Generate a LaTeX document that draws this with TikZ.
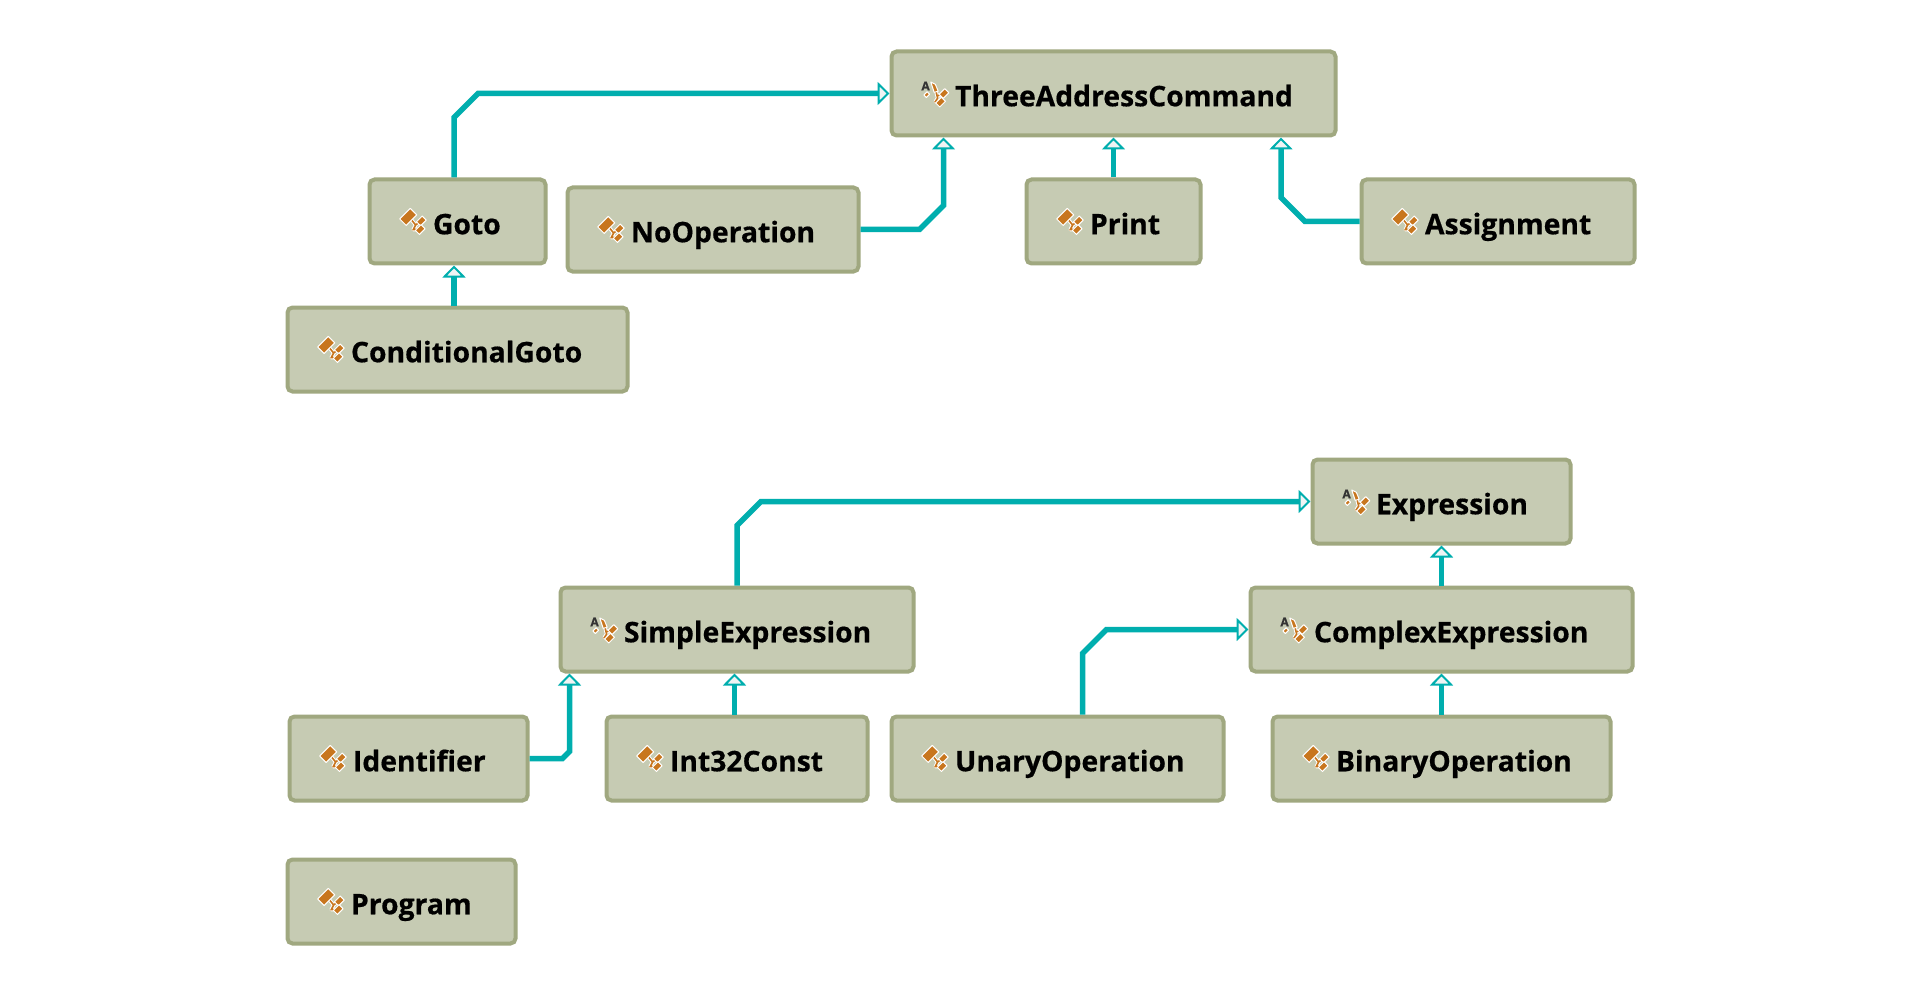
\documentclass[tikz,border=0pt]{standalone}
\usepackage{fontspec}
\setmainfont{Open Sans}[BoldFeatures={FakeBold=0.5}]
\usetikzlibrary{arrows.meta}
\definecolor{boxfill}{HTML}{C6CBB3}
\definecolor{boxline}{HTML}{A0A880}
\definecolor{conncol}{HTML}{00AEAE}
\definecolor{tipfill}{HTML}{F0F4F4}
\definecolor{iconcol}{HTML}{C8761E}
\definecolor{inkcol}{HTML}{333333}
\tikzset{
  clsbox/.style={draw=boxline,fill=boxfill,line width=4pt,rounded corners=5pt,inner sep=0pt,
    align=left,text height=32.5pt,text depth=7pt,text=black,font=\fontsize{28.3}{33}\selectfont\bfseries},
  conn/.style={draw=conncol,line width=5.5pt,line join=miter,
    -{Triangle[length=12pt,width=23pt,line width=2pt,fill=tipfill,color=conncol]}},
  iconpart/.style={fill=iconcol,draw=white,line width=1pt,line join=round},
  iconhalo/.style={draw=white,line width=3.6pt,line join=round},
  iconline/.style={draw=iconcol,line width=1.6pt},
  iconletter/.style={inner sep=0pt,text=inkcol,font=\fontsize{12}{12}\selectfont\bfseries},
  iconframe/.style={shift={(#1.west)},shift={(47,0)},scale=1.15,shift={(-46,0)}}
}
% #1 name, #2 x1, #3 y1, #4 x2, #5 y2, #6 text
\newcommand{\clsnode}[6]{%
  \pgfmathsetmacro{\cw}{#4-#2}\pgfmathsetmacro{\ch}{#5-#3}%
  \pgfmathsetmacro{\cx}{(#2+#4)/2}\pgfmathsetmacro{\cy}{(#3+#5)/2}%
  \pgfmathsetmacro{\ctw}{\cw-34}%
  \node[clsbox,minimum width=\cw pt-3pt,minimum height=\ch pt-3pt,text width=\ctw pt] (#1) at (\cx,\cy) {\hspace*{48pt}#6};%
}
\newcommand{\rotbar}[4]{% centre x,y ; half length, half width along the rising diagonal
  \path[iconpart,shift={(#1,#2)},rotate=45] (-#3,-#4) rectangle (#3,#4);}
\newcommand{\classicon}[1]{%
  \begin{scope}[iconframe=#1]
    \draw[iconhalo] (42,-3) -- (47,3) -- (45,7) -- (50,7) (47,3) -- (51,0);
    \draw[iconline] (42,-3) -- (47,3) -- (45,7) -- (50,7) (47,3) -- (51,0);
    \rotbar{40.5}{-4}{6.5}{4}
    \rotbar{52}{-0.5}{3.5}{2.5}
    \rotbar{51}{7}{3.5}{2.5}
  \end{scope}}
\newcommand{\abstracticon}[1]{%
  \begin{scope}[iconframe=#1]
    \draw[iconhalo] (45,-4) -- (47,4) -- (45,7) -- (49,7) (47,2) -- (52,0);
    \draw[iconline] (45,-4) -- (47,4) -- (45,7) -- (49,7) (47,2) -- (52,0);
    \node[iconletter] (#1a) at (36.5,-6.5) {A};
    \rotbar{37.5}{1}{2}{1.5}
    \path[iconpart] (41,-10) -- (45,-8) -- (47.5,-2) -- (44,-1) -- cycle;
    \rotbar{52.5}{0}{3.5}{2.5}
    \rotbar{49.5}{7.5}{3.5}{2.5}
  \end{scope}}
\begin{document}
\begin{tikzpicture}[x=1pt,y=-1pt]
\useasboundingbox[fill=white] (0,0) rectangle (1920,995);
\clsnode{tac}{890}{50}{1337}{137}{ThreeAddressCommand}
\clsnode{gotoc}{368}{178}{547}{265}{Goto}
\clsnode{nop}{566}{186}{860}{273}{NoOperation}
\clsnode{printc}{1025}{178}{1202}{265}{Print}
\clsnode{assign}{1360}{178}{1636}{265}{Assignment}
\clsnode{cgoto}{286}{306}{629}{393}{ConditionalGoto}
\clsnode{expr}{1311}{458}{1572}{545}{Expression}
\clsnode{simple}{559}{586}{915}{673}{SimpleExpression}
\clsnode{complex}{1249}{586}{1634}{673}{ComplexExpression}
\clsnode{ident}{288}{715}{529}{802}{Identifier}
\clsnode{intc}{605}{715}{869}{802}{Int32Const}
\clsnode{unary}{890}{715}{1225}{802}{UnaryOperation}
\clsnode{binary}{1271}{715}{1612}{802}{BinaryOperation}
\clsnode{prog}{286}{858}{517}{945}{Program}
\abstracticon{tac}\abstracticon{expr}\abstracticon{simple}\abstracticon{complex}
\classicon{gotoc}\classicon{nop}\classicon{printc}\classicon{assign}\classicon{cgoto}
\classicon{ident}\classicon{intc}\classicon{unary}\classicon{binary}\classicon{prog}
\draw[conn] ([xshift=-3.5pt]gotoc.north) -- ++(0,-60) -- ++(24,-24) -- (tac.west);
\draw[conn] (nop.east) -- ++(59,0) -- ++(24,-24) -- ([xshift=-170pt]tac.south);
\draw[conn] (printc.north) -- (tac.south);
\draw[conn] (assign.west) -- ++(-54.5,0) -- ++(-24,-24) -- ([xshift=167.5pt]tac.south);
\draw[conn] ([xshift=-3.5pt]cgoto.north) -- ([xshift=-3.5pt]gotoc.south);
\draw[conn] (simple.north) -- ++(0,-60) -- ++(24,-24) -- (expr.west);
\draw[conn] (complex.north) -- (expr.south);
\draw[conn] (ident.east) -- ++(33,0) -- ++(7,-7) -- ([xshift=-167.5pt]simple.south);
\draw[conn] ([xshift=-2.5pt]intc.north) -- ([xshift=-2.5pt]simple.south);
\draw[conn] ([xshift=25pt]unary.north) -- ++(0,-61) -- ++(24,-24) -- (complex.west);
\draw[conn] (binary.north) -- (complex.south);
\end{tikzpicture}
\end{document}
